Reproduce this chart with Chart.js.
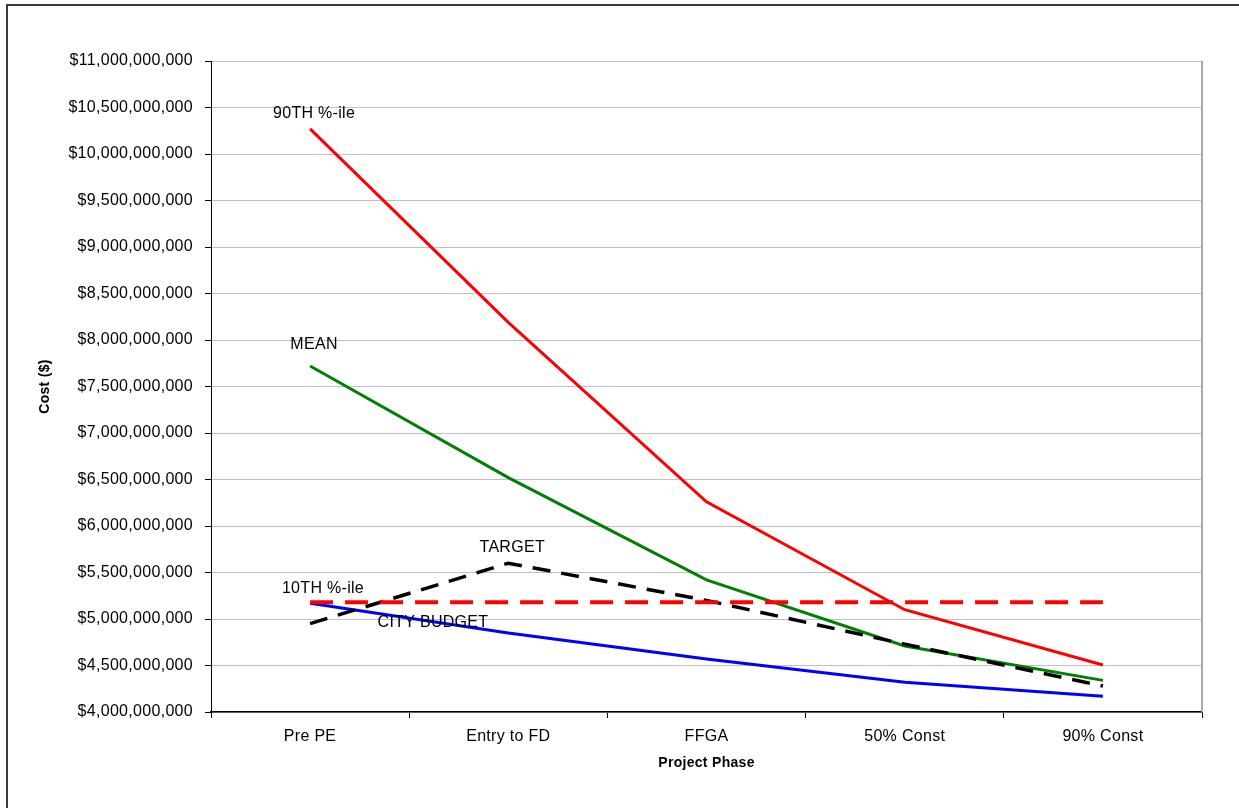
<!DOCTYPE html>
<html>
<head>
<meta charset="utf-8">
<script src="https://cdn.jsdelivr.net/npm/chart.js@4.4.1/dist/chart.umd.min.js"></script>
<style>
  html, body { margin: 0; padding: 0; background: #fff; overflow: hidden; }
  #frame { position: absolute; left: 6px; top: 4px; width: 1300px; height: 900px;
           border-left: 2px solid #3a3a3a; border-top: 2px solid #3a3a3a; }
  #wrap { position: absolute; left: 0; top: 0; width: 1239px; height: 808px; }
</style>
</head>
<body>
<div id="frame"></div>
<div id="wrap"><canvas id="c" width="1239" height="808"></canvas></div>
<script>
const categories = ['Pre PE', 'Entry to FD', 'FFGA', '50% Const', '90% Const'];
const pct90      = [10270000000, 8190000000, 6260000000, 5100000000, 4505000000];
const meanCost   = [7720000000, 6520000000, 5420000000, 4710000000, 4340000000];
const pct10      = [5170000000, 4850000000, 4570000000, 4320000000, 4170000000];
const target     = [4950000000, 5600000000, 5200000000, 4730000000, 4280000000];
const cityBudget = [5180000000, 5180000000, 5180000000, 5180000000, 5180000000];
const yMin = 4000000000, yMax = 11000000000, yStep = 500000000;

// text annotations anchored in data space: [text, category index, value]
const annotationTexts  = ['90TH %-ile', 'MEAN', 'TARGET', '10TH %-ile', 'CITY BUDGET'];
const annotationCats   = [0.02, 0.02, 1.02, 0.065, 0.62];
const annotationValues = [10430000000, 7950000000, 5770000000, 5330000000, 4960000000];

const FONT = '"Liberation Sans", Arial, sans-serif';

const annotPlugin = {
  id: 'annot',
  beforeDraw(chart) {
    chart.ctx.letterSpacing = '0.3px';
  },
  afterDraw(chart) {
    const ctx = chart.ctx, x = chart.scales.x, y = chart.scales.y, a = chart.chartArea;
    ctx.save();
    ctx.strokeStyle = '#a8a8a8';
    ctx.lineWidth = 2;
    ctx.beginPath();
    ctx.moveTo(a.right, a.top);
    ctx.lineTo(a.right, a.bottom);
    ctx.stroke();
    ctx.fillStyle = '#000';
    ctx.font = '16px ' + FONT;
    ctx.textAlign = 'center';
    ctx.textBaseline = 'middle';
    for (let i = 0; i < annotationTexts.length; i++) {
      ctx.fillText(annotationTexts[i], x.getPixelForValue(annotationCats[i]), y.getPixelForValue(annotationValues[i]));
    }
    ctx.restore();
  }
};

new Chart(document.getElementById('c'), {
  type: 'line',
  data: {
    labels: categories,
    datasets: [
      { label: 'City Budget', data: cityBudget, borderColor: '#ff0000', borderWidth: 4, borderDash: [23, 12] },
      { label: 'Target', data: target, borderColor: '#000000', borderWidth: 3.5, borderDash: [18, 11] },
      { label: '90th', data: pct90, borderColor: '#ff0000', borderWidth: 3 },
      { label: 'Mean', data: meanCost, borderColor: '#008000', borderWidth: 3 },
      { label: '10th', data: pct10, borderColor: '#0000ff', borderWidth: 3 }
    ]
  },
  options: {
    responsive: false,
    animation: false,
    devicePixelRatio: 1,
    layout: { padding: { left: 0, top: 61, right: 37, bottom: 0 } },
    elements: { point: { radius: 0 }, line: { tension: 0, fill: false, borderCapStyle: 'butt' } },
    plugins: { legend: { display: false }, tooltip: { enabled: false }, title: { display: false } },
    scales: {
      x: {
        offset: true,
        grid: { display: true, drawOnChartArea: false, offset: true, tickLength: 6, tickColor: '#000', tickWidth: 1 },
        border: { display: true, color: '#000', width: 1.5 },
        ticks: { color: '#000', font: { family: FONT, size: 16 }, padding: 9, maxRotation: 0, autoSkip: false },
        title: { display: true, text: 'Project Phase', color: '#000', font: { family: FONT, size: 14, weight: 'bold' }, padding: { top: 0, bottom: 36 } },
        afterFit(s) { s.height = 96; }
      },
      y: {
        min: yMin, max: yMax,
        grid: { color: '#c0c0c0', lineWidth: 1, tickLength: 6, tickColor: '#000' },
        border: { display: true, color: '#000', width: 1 },
        ticks: {
          stepSize: yStep, color: '#000', font: { family: FONT, size: 16 }, padding: 12,
          callback: v => '$' + Number(v).toLocaleString('en-US')
        },
        title: { display: true, text: 'Cost ($)', color: '#000', font: { family: FONT, size: 14, weight: 'bold' }, padding: { top: 37, bottom: 0 } },
        afterFit(s) { s.width = 211; }
      }
    }
  },
  plugins: [annotPlugin]
});
</script>
</body>
</html>
